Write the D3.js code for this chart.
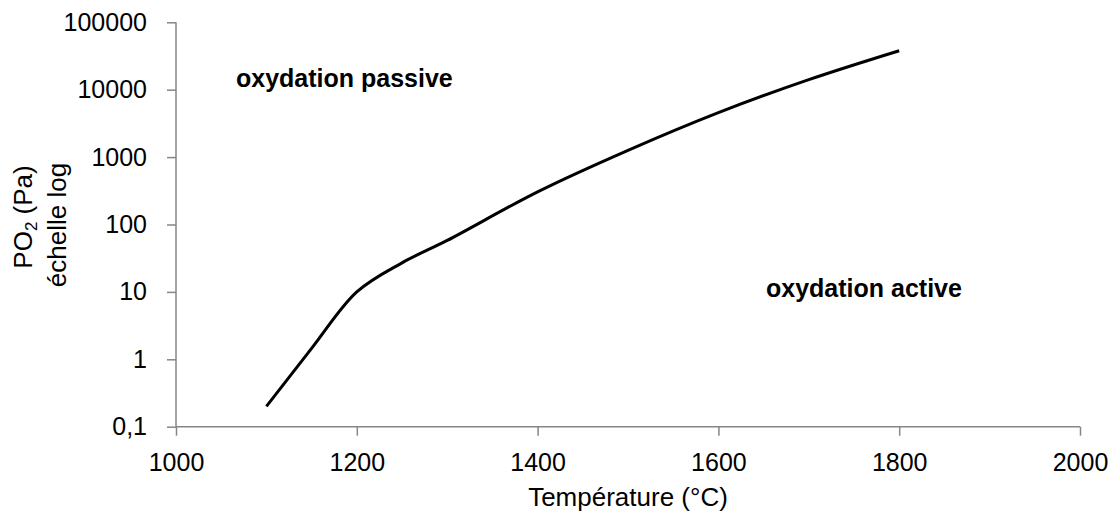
<!DOCTYPE html>
<html lang="fr">
<head>
<meta charset="utf-8">
<title>PO2 - oxydation active / passive</title>
<script src="https://cdn.jsdelivr.net/npm/d3@7"></script>
<style>
  body { margin: 0; background: #fff; }
  text { font-family: "Liberation Sans", Arial, sans-serif; fill: #000; }
</style>
</head>
<body>
<script>
// temperature (°C) and oxygen partial pressure (Pa)
var temps = [1100, 1150, 1200, 1250, 1300, 1400, 1500, 1600, 1700, 1800];
var po2   = [0.2, 1.45, 10, 27, 58, 305, 1260, 4570, 14100, 37900];

var xTicks = [1000, 1200, 1400, 1600, 1800, 2000];
var yTicks = [0.1, 1, 10, 100, 1000, 10000, 100000];

var W = 1115, H = 515;
// plot area (pixels); "top" is reserved on window so use other names
var pLeft = 176, pTop = 22.3, pRight = 1080, pBottom = 426.7;

var svg = d3.select("body").append("svg")
    .attr("width", W)
    .attr("height", H);

var x = d3.scaleLinear().domain([1000, 2000]).range([pLeft, pRight]);
var y = d3.scaleLog().domain([0.1, 100000]).range([pBottom, pTop]);

var axisColor = "#868686";

// y axis
var yAxis = d3.axisLeft(y)
    .tickValues(yTicks)
    .tickSize(9)
    .tickPadding(20)
    .tickFormat(function(d){
        return d < 1 ? String(d).replace(".", ",") : d3.format("d")(d);
    });

var gy = svg.append("g")
    .attr("transform", "translate(" + pLeft + ",0)")
    .call(yAxis);

// x axis
var xAxis = d3.axisBottom(x)
    .tickValues(xTicks)
    .tickSize(9)
    .tickPadding(18)
    .tickFormat(d3.format("d"));

var gx = svg.append("g")
    .attr("transform", "translate(0," + pBottom + ")")
    .call(xAxis);

[gx, gy].forEach(function(g){
    g.select(".domain").attr("stroke", axisColor).attr("stroke-width", 1.5);
    g.selectAll(".tick line").attr("stroke", axisColor).attr("stroke-width", 1.5);
    g.selectAll(".tick text")
        .attr("font-size", "25px")
        .attr("font-family", "Liberation Sans, Arial, sans-serif")
        .attr("fill", "#000");
});
// plain domain lines, the tick lines already give the end marks
gy.select(".domain").attr("d", "M0," + pTop + "V" + pBottom);
gx.select(".domain").attr("d", "M" + pLeft + ",0H" + pRight);

// the curve (smoothed like the spreadsheet line)
var line = d3.line()
    .x(function(d, i){ return x(temps[i]); })
    .y(function(d){ return y(d); })
    .curve(d3.curveCatmullRom.alpha(0.5));

svg.append("path")
    .datum(po2)
    .attr("d", line)
    .attr("fill", "none")
    .attr("stroke", "#000")
    .attr("stroke-width", 3)
    .attr("stroke-linejoin", "round");

// region labels
svg.append("text")
    .attr("x", 236)
    .attr("y", 87)
    .attr("font-size", "25px")
    .attr("font-weight", "bold")
    .text("oxydation passive");

svg.append("text")
    .attr("x", 766)
    .attr("y", 297)
    .attr("font-size", "25px")
    .attr("font-weight", "bold")
    .text("oxydation active");

// axis titles
svg.append("text")
    .attr("x", (pLeft + pRight) / 2)
    .attr("y", 506)
    .attr("text-anchor", "middle")
    .attr("font-size", "26px")
    .text("Température (°C)");

var yt = svg.append("text")
    .attr("transform", "translate(32,217) rotate(-90)")
    .attr("text-anchor", "middle")
    .attr("font-size", "26px");
yt.append("tspan").text("PO");
yt.append("tspan").attr("font-size", "17px").attr("dy", 5).text("2");
yt.append("tspan").attr("dy", -5).text(" (Pa)");

svg.append("text")
    .attr("transform", "translate(66,225) rotate(-90)")
    .attr("text-anchor", "middle")
    .attr("font-size", "26px")
    .text("échelle log");
</script>
</body>
</html>
